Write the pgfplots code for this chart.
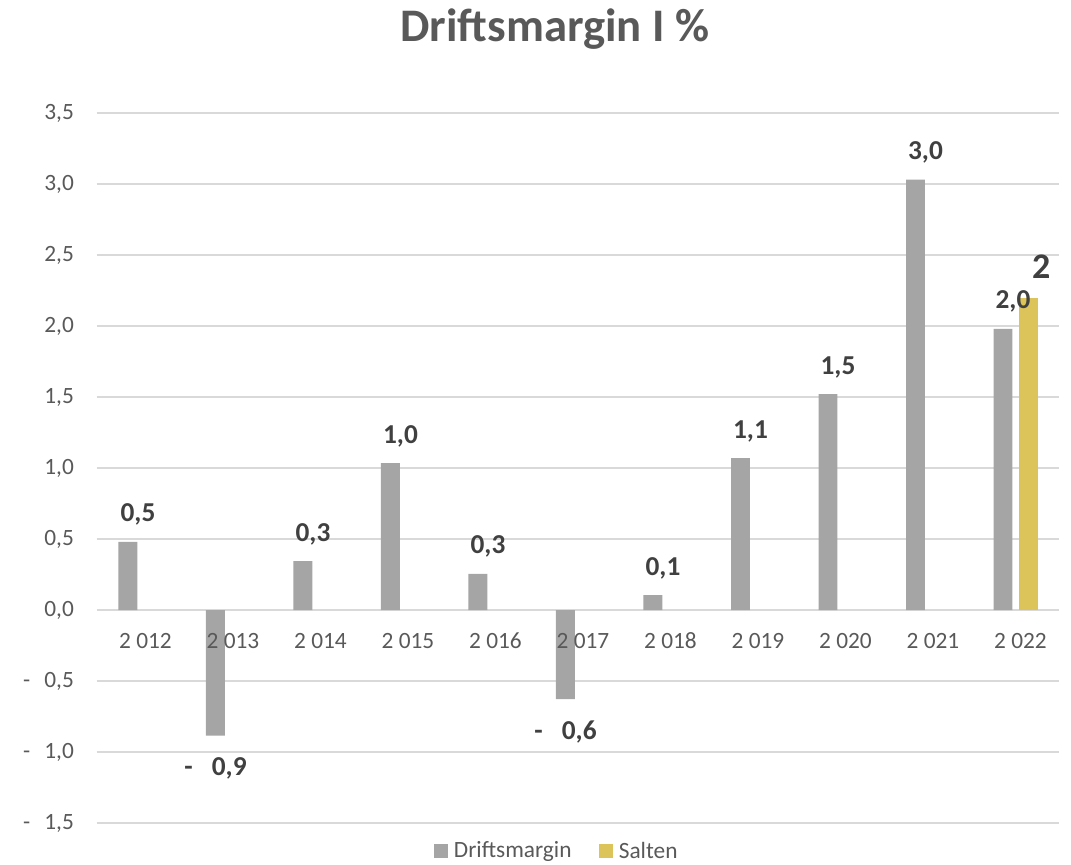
\documentclass[border=0pt]{standalone}
\usepackage{pgfplots}
\pgfplotsset{compat=1.18}
\usepackage{fontspec}
\setmainfont{Carlito}
\definecolor{barGray}{HTML}{A5A5A5}
\definecolor{barGold}{HTML}{DCC45A}
\definecolor{gridGray}{HTML}{D9D9D9}
\definecolor{tickText}{HTML}{595959}
\definecolor{lblText}{HTML}{404040}
\newcommand\pos[1]{\hspace*{15pt}#1}
\newcommand\negl[1]{-\hspace{0.7em}#1}
\pgfplotsset{
  base/.style={
    at={(72.5625pt,30.75pt)}, anchor=south west,
    scale only axis, width=721.875pt, height=532.5pt,
    xmin=-0.5, xmax=10.5, ymin=-1.5, ymax=3.5,
    enlargelimits=false, clip=false,
    axis line style={draw=none},
    major tick length=0pt,
    xtick={0,1,2,3,4,5,6,7,8,9,10},
    ytick={-1.5,-1,-0.5,0,0.5,1,1.5,2,2.5,3,3.5},
    tick label style={font=\fontsize{17.5}{20}\selectfont, text=tickText, inner sep=0pt},
  },
}
\begin{document}
\begin{tikzpicture}[x=0.75pt,y=0.75pt]
\useasboundingbox (0,0) rectangle (1071,864);
\begin{axis}[
  base,
  ybar, bar width=0.217,
  ymajorgrids, grid style={gridGray, line width=0.9pt},
  xticklabels={},
  yticklabels={{-\hspace{0.6em}1,5},{-\hspace{0.6em}1,0},{-\hspace{0.6em}0,5},{0,0},{0,5},{1,0},{1,5},{2,0},{2,5},{3,0},{3,5}},
  yticklabel style={anchor=east, xshift=-17pt},
  legend style={at={(0.480,-0.0394)}, anchor=center, draw=none, fill=none,
    legend columns=2, font=\fontsize{17.5}{20}\selectfont, text=tickText,
    /tikz/every even column/.append style={column sep=16pt},
    nodes={inner xsep=4.5pt}},
  legend image code/.code={\fill[#1] (0pt,-5.25pt) rectangle (10.5pt,5.25pt);},
  every node near coord/.append style={font=\bfseries\fontsize{20.5}{24}\selectfont, text=lblText, inner ysep=12pt, inner xsep=0pt},
]
\addplot[fill=barGray, draw=none, bar shift=-0.143,
  nodes near coords, point meta=explicit symbolic] coordinates {
  (0,0.48) [\pos{0,5}]
  (2,0.345) [\pos{0,3}]
  (3,1.035) [\pos{1,0}]
  (4,0.254) [\pos{0,3}]
  (6,0.104) [\pos{0,1}]
  (7,1.07) [\pos{1,1}]
  (8,1.52) [\pos{1,5}]
  (9,3.03) [\pos{3,0}]
  (10,1.98) [\pos{2,0}]
};
\addlegendentry{Driftsmargin}
\addplot[fill=barGray, draw=none, bar shift=-0.143, forget plot,
  nodes near coords, point meta=explicit symbolic,
  nodes near coords align={below},
  every node near coord/.append style={inner ysep=16.5pt}] coordinates {
  (1,-0.885) [\negl{0,9}]
  (5,-0.627) [\negl{0,6}]
};
\addplot[fill=barGold, draw=none, bar shift=0.143,
  nodes near coords, point meta=explicit symbolic,
  every node near coord/.append style={font=\bfseries\fontsize{27}{30}\selectfont, inner ysep=14pt}] coordinates {
  (10,2.2) [\hspace*{20pt}2]
};
\addlegendentry{Salten}
\end{axis}
% x tick labels drawn on top of the bars
\begin{axis}[
  base,
  yticklabels={},
  xticklabels={{2 012},{2 013},{2 014},{2 015},{2 016},{2 017},{2 018},{2 019},{2 020},{2 021},{2 022}},
  xticklabel style={anchor=base, yshift=130.85pt, xshift=3.75pt},
]
\end{axis}
\node[anchor=base, font=\bfseries\fontsize{35}{40}\selectfont, text=tickText] at (555,822) {Driftsmargin I \%};
\end{tikzpicture}
\end{document}
